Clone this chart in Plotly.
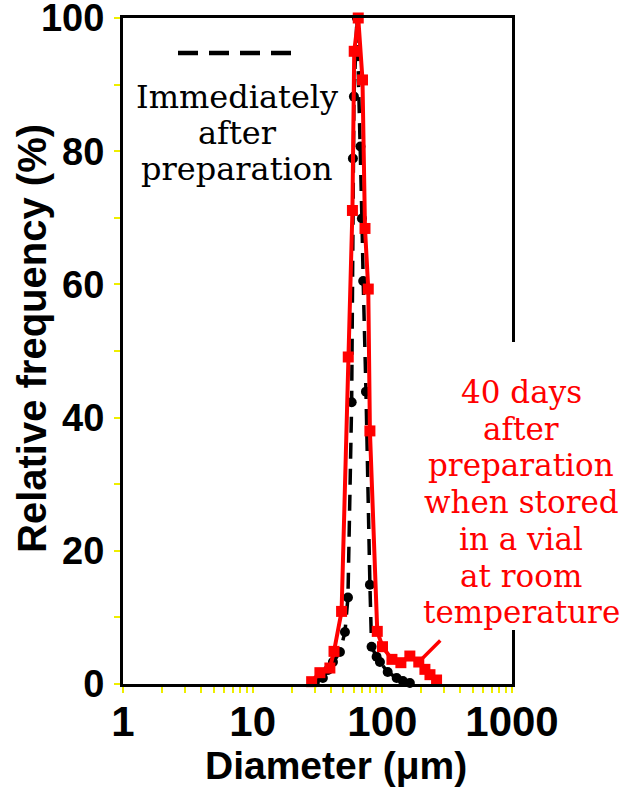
import plotly.graph_objects as go

# Immediately after preparation (black, dashed)
black_d = [30.2, 34.8, 38.1, 41.6, 47.1, 51.5, 54.3, 58.0, 59.3, 60.4, 63.7,
           67.8, 69.6, 71.2, 74.8, 80.2, 82.6, 90.3, 95.8, 110, 129, 144, 163]
black_v = [0.3, 0.9, 2.1, 3.3, 4.8, 7.8, 13.0, 42.3, 78.9, 88.2, 100,
           80.7, 69.9, 60.5, 43.9, 14.9, 5.6, 4.1, 3.3, 1.8, 0.9, 0.45, 0.15]

# 40 days after preparation (red)
red_d = [28.5, 33.0, 39.4, 42.4, 48.5, 54.6, 58.8, 60.7, 65.2, 70.3, 73.5,
         77.9, 80.2, 91.4, 100.3, 118.6, 139, 163, 191, 213, 233, 262]
red_v = [0.35, 1.7, 2.4, 4.9, 10.9, 49.1, 71.1, 95, 100, 90.7, 68.4,
         59.3, 38, 7.9, 5.6, 3.7, 3.2, 4.2, 3.3, 2.2, 1.4, 0.6]

x_tickvals = [1, 10, 100, 1000]
x_ticktext = ["1", "10", "100", "1000"]
x_minor = [2, 3, 4, 5, 6, 7, 8, 9, 20, 30, 40, 50, 60, 70, 80, 90,
           200, 300, 400, 500, 600, 700, 800, 900]
y_tickvals = [0, 20, 40, 60, 80, 100]
y_ticktext = ["0", "20", "40", "60", "80", "100"]

x_title = "Diameter (μm)"
y_title = "Relative frequency (%)"
black_label = ["Immediately", "after", "preparation"]
red_label = ["40 days", "after", "preparation", "when stored",
             "in a vial", "at room", "temperature"]

YEL = "#eeee00"

fig = go.Figure()
fig.add_trace(go.Scatter(
    x=black_d, y=black_v, mode="lines+markers",
    line=dict(color="black", width=3.5, dash="16px,10px"),
    marker=dict(symbol="circle", size=10, color="black"),
    cliponaxis=False, showlegend=False))
fig.add_trace(go.Scatter(
    x=red_d, y=red_v, mode="lines+markers",
    line=dict(color="#ff0000", width=4),
    marker=dict(symbol="square", size=11, color="#ff0000"),
    cliponaxis=False, showlegend=False))

L, R, T, B = 123, 123, 18, 105
W, H = 635, 789
pw, ph = W - L - R, H - T - B

def px(x):
    return (x - L) / pw

def py(y):
    return (H - B - y) / ph

# white box behind red label (hides right spine)
fig.add_shape(type="rect", xref="paper", yref="paper",
              x0=px(418), x1=px(635), y0=py(630), y1=py(342),
              fillcolor="white", line=dict(width=0), layer="above")
# dashed legend sample
fig.add_shape(type="line", xref="paper", yref="paper",
              x0=px(178), x1=px(292), y0=py(53), y1=py(53),
              line=dict(color="black", width=4.5, dash="20px,11px"))

serif = "DejaVu Serif"
for i, t in enumerate(black_label):
    fig.add_annotation(text=t, xref="paper", yref="paper",
                       x=px(237), y=py(97 + 36 * i), showarrow=False,
                       xanchor="center", yanchor="middle",
                       font=dict(family=serif, size=32, color="black"))
for i, t in enumerate(red_label):
    fig.add_annotation(text=t, xref="paper", yref="paper",
                       x=px(521), y=py(392 + 36.7 * i), showarrow=False,
                       xanchor="center", yanchor="middle",
                       font=dict(family=serif, size=31, color="#ff0000"))

# axis titles
sans_b = dict(family="Liberation Sans", size=39, color="black", weight="bold")
fig.add_annotation(text=x_title, xref="paper", yref="paper",
                   x=px(336), y=py(765), showarrow=False,
                   xanchor="center", yanchor="middle", font=sans_b)
fig.add_annotation(text=y_title, xref="paper", yref="paper",
                   x=px(32), y=py(339), showarrow=False, textangle=-90,
                   xanchor="center", yanchor="middle",
                   font=dict(family="Liberation Sans", size=40,
                             color="black", weight="bold"))

# pointer line to the secondary bump
fig.add_annotation(x=2.281, y=3.3, xref="x", yref="y", text="",
                   showarrow=True, arrowhead=0, arrowwidth=3.5,
                   arrowcolor="#ff0000", ax=23, ay=-23, standoff=5)

fig.update_layout(
    width=W, height=H,
    margin=dict(l=L, r=R, t=T, b=B, autoexpand=False),
    plot_bgcolor="white", paper_bgcolor="white",
    xaxis=dict(type="log", range=[0, 3], showgrid=False, zeroline=False,
               automargin=False,
               showline=True, linecolor="black", linewidth=3, mirror=True,
               tickvals=x_tickvals, ticktext=x_ticktext,
               ticks="outside", ticklen=6, tickcolor=YEL, tickwidth=1.5,
               minor=dict(tickvals=x_minor, ticks="outside", ticklen=6,
                          tickcolor=YEL, tickwidth=1.5, showgrid=False),
               ticklabelstandoff=-7, ticklabeloverflow="allow",
               tickfont=dict(family="Liberation Sans", size=42,
                             color="black", weight="bold")),
    yaxis=dict(range=[0, 100], showgrid=False, zeroline=False,
               automargin=False,
               showline=True, linecolor="black", linewidth=3, mirror=True,
               tickvals=y_tickvals, ticktext=y_ticktext,
               ticks="outside", ticklen=6, tickcolor=YEL, tickwidth=1.5,
               minor=dict(dtick=10, ticks="outside", ticklen=6,
                          tickcolor=YEL, tickwidth=1.5, showgrid=False),
               ticklabelstandoff=2, ticklabeloverflow="allow",
               tickfont=dict(family="Liberation Sans", size=38,
                             color="black", weight="bold")),
)

fig.write_html("out.html",
               config={"displayModeBar": False},
               post_script="document.body.style.margin='0';"
                           "document.body.style.padding='0';")
